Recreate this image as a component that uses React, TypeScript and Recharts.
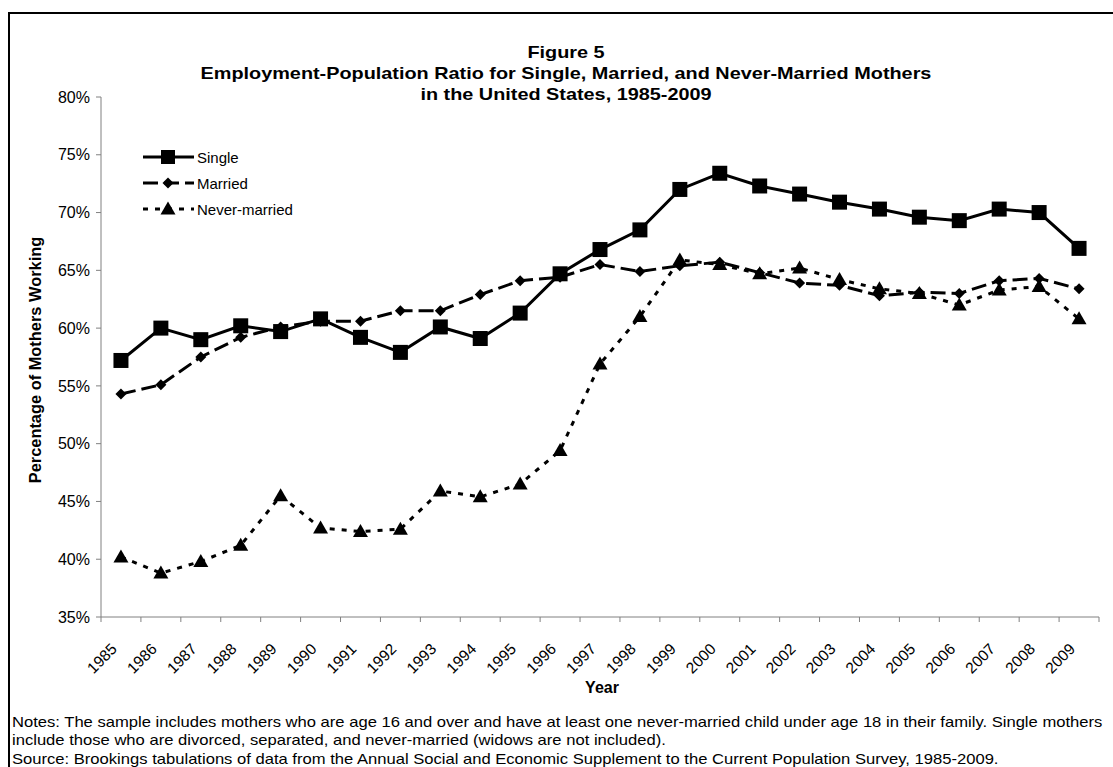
import React from 'react';
import { LineChart, Line, XAxis, YAxis, Legend } from 'recharts';

const years = [1985, 1986, 1987, 1988, 1989, 1990, 1991, 1992, 1993, 1994, 1995, 1996, 1997, 1998, 1999, 2000, 2001, 2002, 2003, 2004, 2005, 2006, 2007, 2008, 2009];
const single = [57.2, 60.0, 59.0, 60.2, 59.7, 60.8, 59.2, 57.9, 60.1, 59.1, 61.3, 64.7, 66.8, 68.5, 72.0, 73.4, 72.3, 71.6, 70.9, 70.3, 69.6, 69.3, 70.3, 70.0, 66.9];
const married = [54.3, 55.1, 57.5, 59.2, 60.1, 60.6, 60.6, 61.5, 61.5, 62.9, 64.1, 64.4, 65.5, 64.9, 65.4, 65.7, 64.8, 63.9, 63.7, 62.8, 63.1, 63.0, 64.1, 64.3, 63.4];
const neverMarried = [40.2, 38.8, 39.8, 41.2, 45.5, 42.7, 42.4, 42.6, 45.9, 45.4, 46.5, 49.4, 56.9, 61.0, 65.9, 65.5, 64.7, 65.2, 64.2, 63.4, 63.0, 62.0, 63.3, 63.6, 60.8];
const yTicks = [35, 40, 45, 50, 55, 60, 65, 70, 75, 80];
const xBoundaryTicks = [...years.map((y) => y - 0.5), 2009.5];

const data = years.map((year, i) => ({
  year,
  single: single[i],
  married: married[i],
  never: neverMarried[i],
}));

const FONT = 'Arial, "Liberation Sans", Helvetica, sans-serif';
const CHART_W = 1113;
const CHART_H = 767;
const MARGIN = { top: 97, right: 14, bottom: 100, left: 41 };
const Y_AXIS_W = 60;
const PLOT_W = CHART_W - MARGIN.left - MARGIN.right - Y_AXIS_W;
const HALF_STEP = PLOT_W / years.length / 2;

const SquareDot = (props: any) => {
  const { cx, cy, index } = props;
  if (cx == null || cy == null) return <g key={`s${index}`} />;
  return <rect key={`s${index}`} x={cx - 7.5} y={cy - 7.5} width={15} height={15} fill="#000" />;
};
const DiamondDot = (props: any) => {
  const { cx, cy, index } = props;
  if (cx == null || cy == null) return <g key={`d${index}`} />;
  const r = 5.5;
  return <polygon key={`d${index}`} points={`${cx},${cy - r} ${cx + r},${cy} ${cx},${cy + r} ${cx - r},${cy}`} fill="#000" />;
};
const TriangleDot = (props: any) => {
  const { cx, cy, index } = props;
  if (cx == null || cy == null) return <g key={`t${index}`} />;
  return <polygon key={`t${index}`} points={`${cx},${cy - 7.5} ${cx + 7.5},${cy + 5.5} ${cx - 7.5},${cy + 5.5}`} fill="#000" />;
};

const XTick = (props: any) => {
  const { x, y, payload } = props;
  const v = payload.value;
  if (v >= 2009.5) return <g />;
  const label = String(Math.round(v + 0.5));
  const tx = x + HALF_STEP - 3;
  const ty = y + 26;
  return (
    <text x={tx} y={ty} transform={`rotate(-45, ${tx}, ${ty})`} textAnchor="end" fill="#000" fontSize={15.5} fontFamily={FONT}>
      {label}
    </text>
  );
};

const legendItems = [
  { label: 'Single', dash: undefined as string | undefined, marker: 'square' },
  { label: 'Married', dash: '15 6', marker: 'diamond' },
  { label: 'Never-married', dash: '5 7', marker: 'triangle' },
];

const LegendContent = () => (
  <div style={{ fontFamily: FONT, fontSize: 15, color: '#000', whiteSpace: 'nowrap' }}>
    {legendItems.map((it) => (
      <div key={it.label} style={{ display: 'flex', alignItems: 'center', height: 26 }}>
        <svg width={54} height={20} style={{ display: 'block' }}>
          <line x1={1} y1={10} x2={52} y2={10} stroke="#000" strokeWidth={3} strokeDasharray={it.dash} />
          {it.marker === 'square' && <rect x={19} y={3} width={14} height={14} fill="#000" />}
          {it.marker === 'diamond' && <polygon points="26,4.5 31.5,10 26,15.5 20.5,10" fill="#000" />}
          {it.marker === 'triangle' && <polygon points="26,2.5 33.5,15.5 18.5,15.5" fill="#000" />}
        </svg>
        <span style={{ marginLeft: 1 }}>{it.label}</span>
      </div>
    ))}
  </div>
);

export default function App() {
  return (
    <div style={{ position: 'absolute', left: 0, top: 0, width: CHART_W, height: CHART_H, overflow: 'hidden', background: '#fff', fontFamily: FONT }}>
      <div style={{ position: 'absolute', left: 8, top: 12, width: 1300, height: 1000, border: '2px solid #000', boxSizing: 'border-box' }} />
      <div style={{ position: 'absolute', left: 0, width: 1132, top: 42, textAlign: 'center', fontWeight: 'bold', fontSize: 17, lineHeight: '21px', color: '#000', transform: 'scaleX(1.167)', transformOrigin: '566px 0', whiteSpace: 'nowrap' }}>
        <div>Figure 5</div>
        <div>Employment-Population Ratio for Single, Married, and Never-Married Mothers</div>
        <div>in the United States, 1985-2009</div>
      </div>
      <div style={{ position: 'absolute', left: 0, top: 0 }}>
        <LineChart width={CHART_W} height={CHART_H} data={data} margin={MARGIN}>
          <XAxis
            dataKey="year"
            type="number"
            domain={[1984.5, 2009.5]}
            ticks={xBoundaryTicks}
            interval={0}
            tick={<XTick />}
            tickSize={5}
            tickMargin={2}
            axisLine={{ stroke: '#808080', strokeWidth: 1 }}
            tickLine={{ stroke: '#808080', strokeWidth: 1 }}
            height={50}
            allowDataOverflow
          />
          <YAxis
            domain={[35, 80]}
            ticks={yTicks}
            interval={0}
            tickFormatter={(v: number) => `${v}%`}
            tick={{ fill: '#000', fontSize: 16, fontFamily: FONT }}
            tickSize={5}
            tickMargin={6}
            axisLine={{ stroke: '#808080', strokeWidth: 1 }}
            tickLine={{ stroke: '#808080', strokeWidth: 1 }}
            width={Y_AXIS_W}
            allowDataOverflow
          />
          <Legend
            content={<LegendContent />}
            layout="vertical"
            verticalAlign="middle"
            align="center"
            wrapperStyle={{ position: 'absolute', left: 142, top: 144, width: 200, height: 80 }}
          />
          <Line dataKey="single" name="Single" stroke="#000" strokeWidth={3} dot={SquareDot} activeDot={false} isAnimationActive={false} />
          <Line dataKey="married" name="Married" stroke="#000" strokeWidth={3} strokeDasharray="15 6" dot={DiamondDot} activeDot={false} isAnimationActive={false} />
          <Line dataKey="never" name="Never-married" stroke="#000" strokeWidth={3} strokeDasharray="5 7" dot={TriangleDot} activeDot={false} isAnimationActive={false} />
        </LineChart>
      </div>
      <div style={{ position: 'absolute', left: 35, top: 360, transform: 'translate(-50%, -50%) rotate(-90deg)', whiteSpace: 'nowrap', fontWeight: 'bold', fontSize: 16.4, color: '#000' }}>
        Percentage of Mothers Working
      </div>
      <div style={{ position: 'absolute', left: 602, top: 688, transform: 'translate(-50%, -50%)', whiteSpace: 'nowrap', fontWeight: 'bold', fontSize: 16, color: '#000' }}>
        Year
      </div>
      <div style={{ position: 'absolute', left: 12, top: 713, fontSize: 15, lineHeight: '18.3px', color: '#000', whiteSpace: 'nowrap', transform: 'scaleX(1.106)', transformOrigin: '0 0' }}>
        <div>Notes: The sample includes mothers who are age 16 and over and have at least one never-married child under age 18 in their family. Single mothers</div>
        <div>include those who are divorced, separated, and never-married (widows are not included).</div>
        <div>Source: Brookings tabulations of data from the Annual Social and Economic Supplement to the Current Population Survey, 1985-2009.</div>
      </div>
    </div>
  );
}
